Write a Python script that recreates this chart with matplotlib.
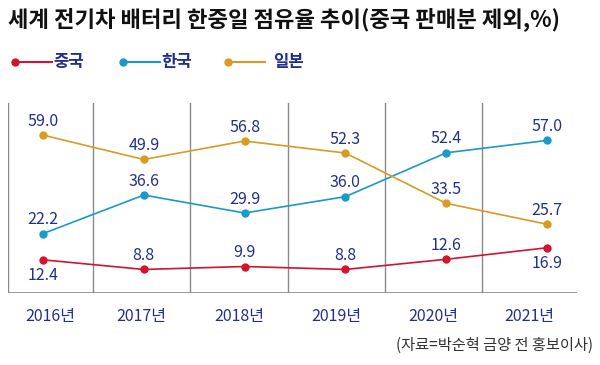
import matplotlib
matplotlib.use("Agg")
import matplotlib.pyplot as plt
from matplotlib.lines import Line2D

plt.rcParams['font.family'] = ['Noto Sans CJK KR', 'DejaVu Sans']

# data
years = ['2016년', '2017년', '2018년', '2019년', '2020년', '2021년']
china = [12.4, 8.8, 9.9, 8.8, 12.6, 16.9]
korea = [22.2, 36.6, 29.9, 36.0, 52.4, 57.0]
japan = [59.0, 49.9, 56.8, 52.3, 33.5, 25.7]
series_names = ['중국', '한국', '일본']

# layout (in index units of the x axis)
bounds = [-0.347, 0.496, 1.458, 2.431, 3.393, 4.355, 5.298]

NAVY = '#23308a'
colors = {'중국': '#d2142e', '한국': '#1a9ac6', '일본': '#d99b22'}

W, H = 600, 365
fig = plt.figure(figsize=(6, 3.65), dpi=100)
ax = fig.add_axes([8 / W, (H - 293) / H, (577 - 8) / W, (293 - 103) / H])
ax.set_xlim(bounds[0], bounds[-1])
ax.set_ylim(0, 71)
ax.axis('off')

# column dividers and baseline
for b in bounds[:-1]:
    ax.axvline(b, color='#8a8a8a', lw=1.0, zorder=1)
ax.axhline(0, color='#8a8a8a', lw=1.2, zorder=1)

xs = range(len(years))
for name, vals in zip(series_names, [china, korea, japan]):
    ax.plot(xs, vals, color=colors[name], lw=1.2, marker='o', ms=5, zorder=3)

# value labels
below = {('중국', 0), ('중국', 5)}
for name, vals in zip(series_names, [china, korea, japan]):
    for i, v in enumerate(vals):
        dy = -11 if (name, i) in below else 10
        ax.annotate(f'{v:.1f}', (i, v), xytext=(0, dy), textcoords='offset points',
                    ha='center', va='center', fontsize=11.5, color=NAVY)

# year labels centered in each column
for i, y in enumerate(years):
    ax.text((bounds[i] + bounds[i + 1]) / 2, -8.8, y, ha='center', va='center',
            fontsize=11.5, color=NAVY, fontweight='medium')

# title
fig.text(8 / W, 1 - 19 / H, '세계 전기차 배터리 한중일 점유율 추이(중국 판매분 제외,%)',
         ha='left', va='center', fontsize=16, fontweight='bold', color='#111111')

# legend
leg_x = [15, 123, 228]
for name, x0 in zip(series_names, leg_x):
    yy = 1 - 62 / H
    fig.add_artist(Line2D([x0 / W, (x0 + 37) / W], [yy, yy], color=colors[name], lw=1.5,
                          transform=fig.transFigure))
    fig.add_artist(Line2D([x0 / W], [yy], color=colors[name], marker='o', ms=5,
                          transform=fig.transFigure))
    fig.text((x0 + 38) / W if name != '일본' else (x0 + 45) / W, yy, name,
             ha='left', va='center', fontsize=12, color=NAVY, fontweight='bold')

# source
fig.text(593 / W, 1 - 345 / H, '(자료=박순혁 금양 전 홍보이사)', ha='right', va='center',
         fontsize=11, color='#333333')

fig.savefig('out.png', dpi=100)
